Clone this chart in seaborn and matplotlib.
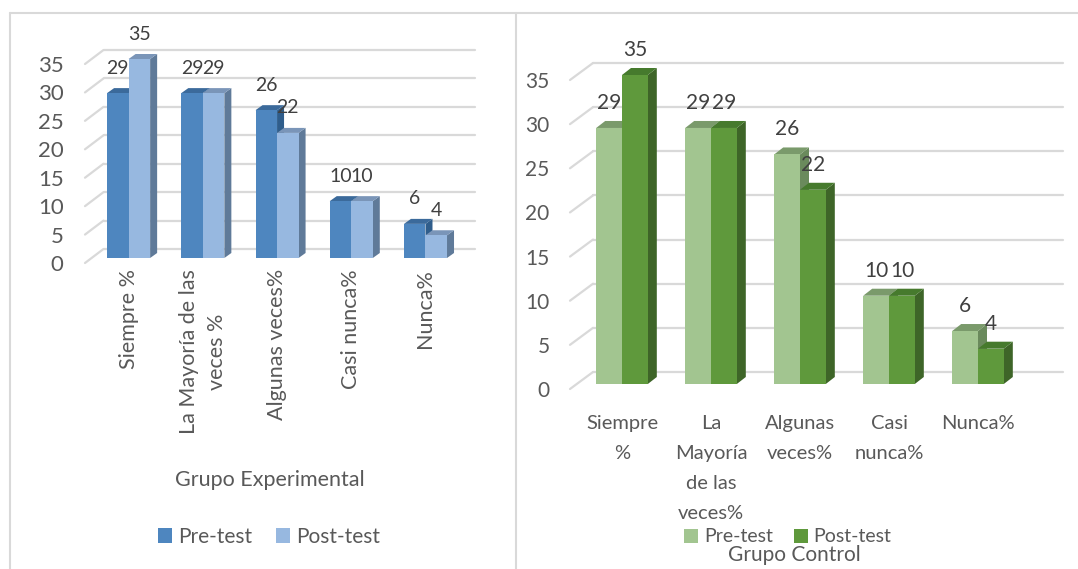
import matplotlib
matplotlib.use("Agg")
import matplotlib.pyplot as plt
from matplotlib.patches import Polygon, Patch
from matplotlib.lines import Line2D
from matplotlib.transforms import ScaledTranslation
import pandas as pd
import seaborn as sns

# datos
grupos = ["Pre-test", "Post-test"]
cats_exp = ["Siempre %", "La Mayoría de las\nveces %", "Algunas veces%", "Casi nunca%", "Nunca%"]
cats_ctrl = ["Siempre\n%", "La\nMayoría\nde las\nveces%", "Algunas\nveces%", "Casi\nnunca%", "Nunca%"]
pre_exp = [29, 29, 26, 10, 6]
post_exp = [35, 29, 22, 10, 4]
pre_ctrl = [29, 29, 26, 10, 6]
post_ctrl = [35, 29, 22, 10, 4]
yticks = [0, 5, 10, 15, 20, 25, 30, 35]

W, H = 1078, 569
GRID = "#d9d9d9"
TXT = "#595959"
LBL = "#404040"

sns.set_theme(style="white")
plt.rcParams["font.family"] = ["Lato", "DejaVu Sans"]

fig = plt.figure(figsize=(W / 100, H / 100), dpi=100)


def caja(x0, x1, y_top, y_bot):
    return [x0 / W, (H - y_bot) / H, (x1 - x0) / W, (y_bot - y_top) / H]


def panel(box_px, cats, pre, post, colores, front, back, depth, fs, rot, pad_y, pad_x,
          grid_end=None, linesp=1.2):
    x0, x1, yt, yb = box_px
    ax = fig.add_axes(caja(*box_px))
    ax.patch.set_alpha(0)
    df = pd.DataFrame({
        "cat": cats * 2,
        "valor": pre + post,
        "grupo": [grupos[0]] * len(cats) + [grupos[1]] * len(cats),
    })
    sns.barplot(data=df, x="cat", y="valor", hue="grupo", order=cats,
                palette=[colores["pre"], colores["post"]], saturation=1,
                width=0.58, legend=False, linewidth=0, ax=ax, zorder=3)
    ax.set_xlim(-0.5, len(cats) - 0.5)
    ax.set_ylim(0, 35)
    pxx = (x1 - x0) / len(cats)
    pxy = (yb - yt) / 35

    # caras laterales y superiores (efecto 3D)
    for i, cont in enumerate(ax.containers):
        key = "pre" if i == 0 else "post"
        ddx, ddy = depth[0] / pxx, depth[1] / pxy
        for bar in cont:
            x, w, h = bar.get_x(), bar.get_width(), bar.get_height()
            side = Polygon([(x + w, 0), (x + w + ddx, ddy), (x + w + ddx, h + ddy), (x + w, h)],
                           closed=True, fc=colores[key + "_side"], lw=0, zorder=2 + i * 0.1,
                           clip_on=False)
            top = Polygon([(x, h), (x + ddx, h + ddy), (x + w + ddx, h + ddy), (x + w, h)],
                          closed=True, fc=colores[key + "_top"], lw=0, zorder=2 + i * 0.1,
                          clip_on=False)
            ax.add_patch(side)
            ax.add_patch(top)
            ax.annotate(f"{h:.0f}", (x + w / 2, h), xytext=(0, 25), textcoords="offset pixels",
                        ha="center", va="center", fontsize=fs["lab"], color=LBL, zorder=5)

    # rejilla en la pared del fondo
    xl = -0.5
    xr = len(cats) - 0.5 if grid_end is None else xl + (grid_end - x0) / pxx
    for yv in yticks:
        yb_ = yv + back[1] / pxy
        ax.plot([xl + back[0] / pxx, xr + back[0] / pxx if grid_end is None else xr],
                [yb_, yb_], color=GRID, lw=1.6, zorder=1, clip_on=False)
        ax.plot([xl + front[0] / pxx, xl + back[0] / pxx],
                [yv + front[1] / pxy, yb_], color=GRID, lw=1.6, zorder=1, clip_on=False)

    for s in ax.spines.values():
        s.set_visible(False)
    ax.set_xlabel("")
    ax.set_ylabel("")
    ax.set_yticks(yticks)
    ax.tick_params(axis="y", length=0, pad=pad_y, labelsize=fs["tick"], labelcolor=TXT)
    ax.tick_params(axis="x", length=0, pad=pad_x, labelsize=fs["cat"], labelcolor=TXT)
    ax.set_xticks(range(len(cats)))
    ax.set_xticklabels(cats, rotation=rot, linespacing=linesp)
    off = ScaledTranslation(0, -5 / 100, fig.dpi_scale_trans)
    for t in ax.get_yticklabels():
        t.set_transform(t.get_transform() + off)
    return ax


azul = {"pre": "#4e86bf", "post": "#97b8e0",
        "pre_side": "#2f5d8b", "pre_top": "#3b6a9b",
        "post_side": "#5f7a99", "post_top": "#7a95b8"}
verde = {"pre": "#a2c590", "post": "#5f993c",
         "pre_side": "#6a8a5c", "pre_top": "#7a9a6b",
         "post_side": "#3e6528", "post_top": "#467a2d"}

panel((91.5, 462.6, 59, 258), cats_exp, pre_exp, post_exp, azul,
      front=(-6.5, -5), back=(12, 9), depth=(7, 5),
      fs={"tick": 16, "lab": 14, "cat": 15.5}, rot=90, pad_y=20, pad_x=8, linesp=1.5)
panel((577.5, 1022.5, 75, 384), cats_ctrl, pre_ctrl, post_ctrl, verde,
      front=(-7.5, -5), back=(15.5, 12), depth=(9, 7),
      fs={"tick": 15, "lab": 15, "cat": 14.5}, rot=0, pad_y=20, pad_x=22,
      grid_end=1078 - 15.5, linesp=1.95)

# titulos y leyendas
fig.text(270 / W, 1 - 480 / H, "Grupo Experimental", ha="center", va="center",
         fontsize=15.5, color=TXT)
fig.text(794 / W, 1 - 555 / H, "Grupo Control", ha="center", va="center",
         fontsize=15, color=TXT)
for cols, cx, fsz in ((azul, 269, 15), (verde, 788, 14)):
    handles = [Patch(fc=cols["pre"], lw=0), Patch(fc=cols["post"], lw=0)]
    fig.legend(handles, grupos, loc="center", bbox_to_anchor=(cx / W, 1 - 537 / H),
               ncol=2, frameon=False, fontsize=fsz, handlelength=0.7, handleheight=0.7,
               handletextpad=0.3, columnspacing=1.1, labelcolor=TXT)

# marcos de los paneles
for xs, ys in (([10, 10], [569, 13]), ([10, 1078], [13, 13]), ([516, 516], [569, 13])):
    fig.add_artist(Line2D([x / W for x in xs], [1 - y / H for y in ys], color=GRID, lw=1.5))

fig.savefig("out.png", dpi=100)
